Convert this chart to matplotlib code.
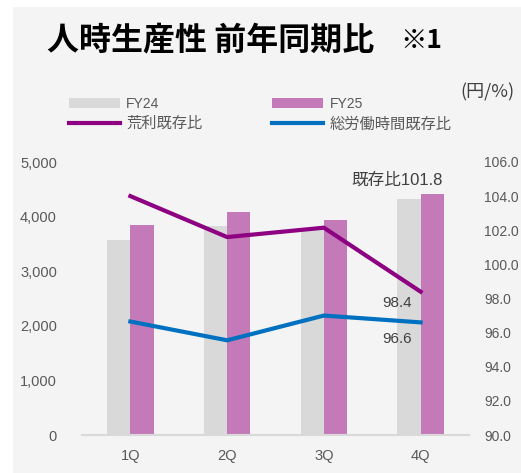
import matplotlib
matplotlib.use("Agg")
import matplotlib.pyplot as plt
from matplotlib.patches import Rectangle
from matplotlib.lines import Line2D
from matplotlib.patches import Patch
import numpy as np

plt.rcParams['font.family'] = ['Liberation Sans', 'Noto Sans CJK JP', 'DejaVu Sans']

categories = ['1Q', '2Q', '3Q', '4Q']
fy24 = [3570, 3830, 3790, 4320]
fy25 = [3850, 4080, 3945, 4410]
gross_ratio = [104.0, 101.6, 102.15, 98.4]
hours_ratio = [96.65, 95.55, 97.0, 96.6]
left_ticks = [0, 1000, 2000, 3000, 4000, 5000]
right_ticks = [90, 92, 94, 96, 98, 100, 102, 104, 106]

TXT = '#595959'
C24 = '#d9d9d9'
C25 = '#c47ab8'
CPUR = '#8e0082'
CBLU = '#0070c0'
CJK = ['Noto Sans CJK JP', 'DejaVu Sans']

W, H = 521, 473
fig = plt.figure(figsize=(W/100, H/100), dpi=100, facecolor='white')
fig.patches.append(Rectangle((13/W, 0), 1 - 13/W, 1 - 7/H, transform=fig.transFigure,
                             facecolor='#f4f4f4', edgecolor='none', zorder=-10))

ax = fig.add_axes([82/W, (H-435)/H, (469-82)/W, (435-162)/H])
ax.set_facecolor('none')
x = np.arange(len(categories))
bw = 0.24
ax.bar(x - bw/2, fy24, width=bw, color=C24, zorder=2)
ax.bar(x + bw/2, fy25, width=bw, color=C25, zorder=2)
ax.set_xlim(-0.5, 3.5)
ax.set_ylim(0, 5000)
ax.set_yticks(left_ticks)
ax.set_yticklabels([f'{v:,}' for v in left_ticks])
ax.set_xticks(x)
ax.set_xticklabels(categories)
for s in ['top', 'right', 'left']:
    ax.spines[s].set_visible(False)
ax.spines['bottom'].set_color('#d9d9d9')
ax.spines['bottom'].set_linewidth(1.5)
ax.tick_params(axis='both', length=0, colors=TXT, labelsize=10.5)
ax.tick_params(axis='y', pad=18)
ax.tick_params(axis='x', pad=10)

ax2 = ax.twinx()
ax2.set_ylim(90, 106)
ax2.plot(x, gross_ratio, color=CPUR, lw=3, zorder=3)
ax2.plot(x, hours_ratio, color=CBLU, lw=3, zorder=3)
ax2.set_yticks(right_ticks)
ax2.set_yticklabels([f'{v:.1f}' for v in right_ticks])
for s in ['top', 'right', 'left', 'bottom']:
    ax2.spines[s].set_visible(False)
ax2.tick_params(axis='y', length=0, colors=TXT, labelsize=10, pad=11)

ax2.annotate('既存比101.8', xy=(3, 106), xytext=(-17, -13), textcoords='offset points',
             ha='center', va='center', fontsize=12, color='#404040')
ax2.annotate(f'{gross_ratio[3]:.1f}', xy=(3, gross_ratio[3]), xytext=(-6, -8),
             textcoords='offset points', ha='right', va='center', fontsize=11, color='#404040')
ax2.annotate(f'{hours_ratio[3]:.1f}', xy=(3, hours_ratio[3]), xytext=(-6, -12),
             textcoords='offset points', ha='right', va='center', fontsize=11, color='#404040')

fig.text(47/W, 1 - 40/H, '人時生産性 前年同期比', fontsize=23, fontweight='bold',
         color='black', ha='left', va='center', family=CJK)
fig.text(400/W, 1 - 40/H, '※1', fontsize=19, fontweight='bold',
         color='black', ha='left', va='center', family=CJK)
fig.text(514/W, 1 - 92/H, '(円/%)', fontsize=13, color='#404040', ha='right', va='center',
         family=CJK)

handles = [Patch(facecolor=C24, edgecolor='none'), Line2D([0], [0], color=CPUR, lw=3),
           Patch(facecolor=C25, edgecolor='none'), Line2D([0], [0], color=CBLU, lw=3)]
labels = ['FY24', '荒利既存比', 'FY25', '総労働時間既存比']
leg = fig.legend(handles, labels, ncol=2, loc='upper left', bbox_to_anchor=(56/W, 1 - 84/H),
                 frameon=False, fontsize=10, handlelength=3.7, handleheight=0.7,
                 columnspacing=5.0, handletextpad=0.45, labelspacing=0.45)
for t in leg.get_texts():
    t.set_color(TXT)
    if not t.get_text().startswith('FY'):
        t.set_fontsize(11)

fig.savefig('out.png', dpi=100, facecolor='white')
